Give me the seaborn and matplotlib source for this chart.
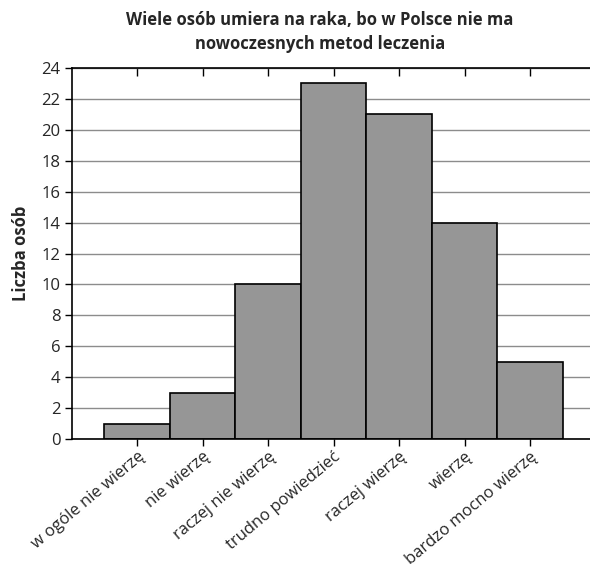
import matplotlib
matplotlib.use("Agg")
import matplotlib.pyplot as plt
import seaborn as sns
import pandas as pd

categories = ["w ogóle nie wierzę", "nie wierzę", "raczej nie wierzę",
              "trudno powiedzieć", "raczej wierzę", "wierzę",
              "bardzo mocno wierzę"]
counts = [1, 3, 10, 23, 21, 14, 5]
y_ticks = list(range(0, 25, 2))

sns.set_theme(style="white")
plt.rcParams["font.family"] = ["Open Sans", "DejaVu Sans"]

df = pd.DataFrame({"kategoria": categories, "liczba": counts})

fig = plt.figure(figsize=(5.90, 5.64), dpi=100)
ax = fig.add_axes([71.5 / 590, 125 / 564, 524 / 590, 371 / 564])

ax.set_axisbelow(True)
ax.yaxis.grid(True, color="#8c8c8c", linewidth=1.0)
ax.xaxis.grid(False)

sns.barplot(data=df, x="kategoria", y="liczba", color="#969696",
            saturation=1, width=1.0, edgecolor="black", linewidth=1.2,
            ax=ax)

ax.set_xlim(-1.0, 7.0)
ax.set_ylim(0, 24)
ax.set_yticks(y_ticks)
ax.set_yticklabels([str(v) for v in y_ticks], fontsize=12)

for side in ("left", "bottom", "top"):
    ax.spines[side].set_visible(True)
    ax.spines[side].set_color("black")
    ax.spines[side].set_linewidth(1.2)
ax.spines["right"].set_visible(False)

ax.tick_params(axis="y", direction="out", length=5, width=1.0,
               color="black", left=True, pad=3)
ax.tick_params(axis="x", which="major", direction="out", length=5,
               width=1.0, color="black", bottom=True, top=True, pad=2)

ax.set_xticks(range(len(categories)))
ax.set_xticklabels(categories, rotation=40, ha="right",
                   rotation_mode="anchor", fontsize=12)

# top ticks point down into the plot
for t in ax.xaxis.get_major_ticks():
    t.tick2line.set_marker(3)  # TICKDOWN
    t.tick2line.set_markersize(6)

ax.set_xlabel("")
ax.set_ylabel("Liczba osób", fontsize=12, fontweight="bold", labelpad=8)

fig.text(320 / 590, 1 - 32 / 564,
         "Wiele osób umiera na raka, bo w Polsce nie ma\nnowoczesnych metod leczenia",
         ha="center", va="center", fontsize=12, fontweight="bold",
         linespacing=1.45)

fig.savefig("out.png", dpi=100)
